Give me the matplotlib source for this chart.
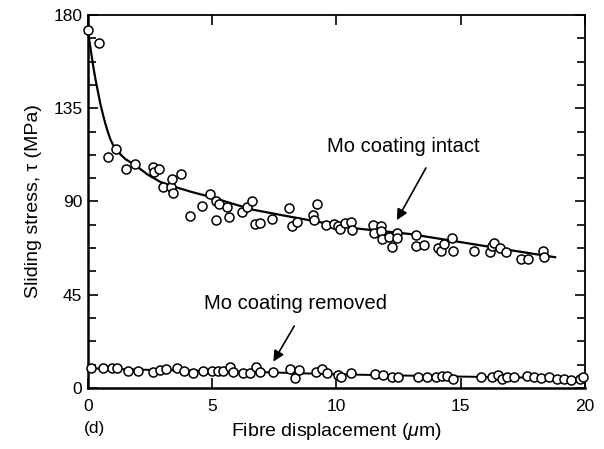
import numpy as np
import matplotlib
matplotlib.use("Agg")
import matplotlib.pyplot as plt
from matplotlib.ticker import MultipleLocator

plt.rcParams['font.family'] = ['Liberation Sans', 'DejaVu Sans']
plt.rcParams['mathtext.fontset'] = 'custom'
plt.rcParams['mathtext.rm'] = 'Liberation Sans'
plt.rcParams['mathtext.it'] = 'Liberation Sans:italic'

# Mo coating intact: measured points
intact_x = [0.0, 0.44, 0.79, 1.13, 1.53, 1.89, 2.6, 2.67, 2.84, 3.0, 3.34, 3.4, 3.41, 3.75,
            4.1, 4.59, 4.9, 5.15, 5.15, 5.26, 5.58, 5.69, 6.18, 6.38, 6.61, 6.72, 6.92, 7.39,
            8.09, 8.22, 8.4, 9.04, 9.1, 9.2, 9.57, 9.9, 10.07, 10.15, 10.34, 10.57, 10.61,
            11.48, 11.52, 11.78, 11.78, 11.85, 12.12, 12.23, 12.45, 12.45, 13.2, 13.2, 13.53,
            14.07, 14.2, 14.33, 14.64, 14.67, 15.55, 16.16, 16.25, 16.32, 16.57, 16.83,
            17.42, 17.7, 18.31, 18.34]
intact_y = [172.8, 166.6, 111.6, 115.2, 105.5, 108.0, 106.8, 104.2, 105.5, 97.2, 97.2, 100.9, 94.0, 103.1,
            83.0, 88.0, 93.5, 90.0, 81.0, 88.6, 87.5, 82.3, 85.1, 87.2, 90.0, 79.2, 79.8, 81.4,
            86.7, 78.2, 80.3, 83.5, 81.1, 88.6, 78.7, 79.0, 78.2, 76.5, 79.4, 80.3, 76.3,
            78.7, 75.0, 78.2, 75.6, 72.0, 73.0, 67.9, 75.0, 72.5, 73.8, 68.5, 69.0,
            67.4, 66.1, 69.3, 72.5, 65.9, 66.1, 65.8, 68.5, 70.1, 67.7, 65.4,
            62.1, 62.1, 66.1, 63.1]

# fitted curve
intact_fit_x = [0.0, 0.1, 0.2, 0.3, 0.4, 0.5, 0.6, 0.7, 0.8, 0.9, 1.0, 1.2, 1.5, 1.9, 2.4,
                2.9, 3.5, 4.2, 4.9, 5.8, 6.65, 7.8, 8.9, 10.55, 12.96, 15.3, 17.0, 18.8]
intact_fit_y = [172.0, 164.0, 156.0, 149.0, 143.0, 137.0, 132.0, 127.5, 123.5, 120.0, 117.5,
                114.0, 110.5, 107.5, 103.0, 99.5, 97.0, 94.5, 92.3, 89.0, 86.0, 83.4, 81.0,
                77.3, 74.3, 69.8, 66.5, 63.1]

# Mo coating removed: measured points
removed_x = [0.12, 0.62, 0.95, 1.18, 1.62, 2.0, 2.63, 2.9, 3.14, 3.57, 3.88, 4.24, 4.64, 4.98,
             5.25, 5.45, 5.72, 5.85, 6.23, 6.5, 6.77, 6.93, 7.44, 8.14, 8.34, 8.51, 9.17, 9.42,
             9.62, 10.07, 10.2, 10.6, 11.55, 11.88, 12.22, 12.48, 13.29, 13.65, 14.0, 14.23,
             14.43, 14.7, 15.8, 16.27, 16.5, 16.67, 16.87, 17.14, 17.68, 17.95, 18.22, 18.55,
             18.89, 19.15, 19.42, 19.8, 19.93]
removed_y = [9.5, 9.8, 9.5, 9.8, 8.3, 8.3, 7.9, 8.7, 9.0, 9.8, 8.3, 7.1, 8.3, 8.2,
             8.2, 8.3, 9.9, 7.9, 7.4, 7.4, 10.3, 7.9, 7.9, 9.0, 4.7, 8.7, 7.9, 9.0,
             7.4, 6.3, 5.5, 7.1, 6.8, 6.3, 5.5, 5.5, 5.2, 5.2, 5.5, 5.8,
             5.8, 4.2, 5.5, 5.5, 6.3, 4.2, 5.2, 5.2, 5.8, 5.5, 4.7, 5.5,
             4.2, 4.2, 3.9, 4.2, 5.5]

removed_fit_x = [0.0, 3.0, 6.0, 10.0, 15.0, 20.0]
removed_fit_y = [9.5, 8.6, 8.0, 6.6, 5.5, 4.6]

fig = plt.figure(figsize=(6.04, 4.49), dpi=100)
ax = fig.add_axes([0.1457, 0.1359, 0.8228, 0.8307])

ax.plot(intact_fit_x, intact_fit_y, color='black', lw=1.6, zorder=2)
ax.plot(removed_fit_x, removed_fit_y, color='black', lw=1.4, zorder=2)
marker_kw = dict(ls='none', marker='o', ms=6.5, mfc='white', mec='black', mew=1.1,
                 zorder=3, clip_on=False)
ax.plot(intact_x, intact_y, **marker_kw)
ax.plot(removed_x, removed_y, **marker_kw)

ax.set_xlim(0, 20)
ax.set_ylim(0, 180)
ax.xaxis.set_major_locator(MultipleLocator(5))
ax.yaxis.set_major_locator(MultipleLocator(45))
ax.yaxis.set_minor_locator(MultipleLocator(11.25))
ax.tick_params(axis='both', which='both', direction='in', top=True, right=True,
               width=1.2, labelsize=12.5)
ax.tick_params(axis='both', which='major', length=7)
ax.tick_params(axis='y', which='minor', length=6)
ax.tick_params(axis='x', pad=8)
ax.tick_params(axis='y', pad=4)
for side in ['left', 'bottom']:
    ax.spines[side].set_linewidth(1.8)
for side in ['top', 'right']:
    ax.spines[side].set_linewidth(1.3)

ax.set_xlabel('Fibre displacement ($\\mu$m)', fontsize=14, labelpad=5)
ax.set_ylabel('Sliding stress, τ (MPa)', fontsize=14, labelpad=8)
fig.text(0.157, 0.03, '(d)', fontsize=12.5, ha='center', va='bottom')

arrow = dict(arrowstyle='-|>', lw=1.2, color='black', mutation_scale=16, shrinkA=0, shrinkB=0)
ax.text(12.7, 116.5, 'Mo coating intact', fontsize=14.5, ha='center', va='center')
ax.annotate('', xy=(12.43, 81), xytext=(13.6, 106.2), arrowprops=arrow)
ax.text(8.37, 41, 'Mo coating removed', fontsize=14.5, ha='center', va='center')
ax.annotate('', xy=(7.46, 12.7), xytext=(8.3, 29.9), arrowprops=arrow)

fig.savefig('out.png', dpi=100)
